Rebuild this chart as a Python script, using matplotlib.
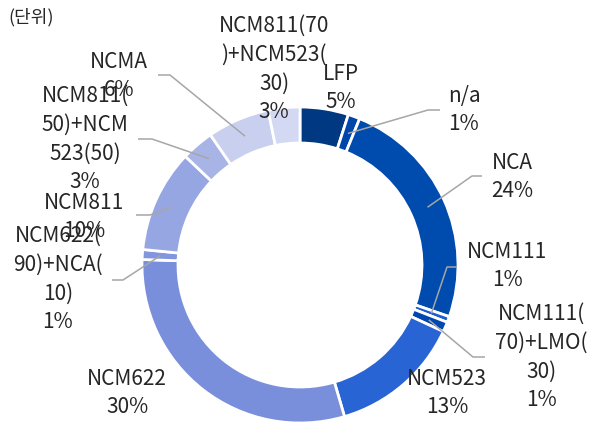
import numpy as np
import matplotlib
matplotlib.use("Agg")
import matplotlib.pyplot as plt

plt.rcParams['font.family'] = ['Noto Sans CJK KR', 'DejaVu Sans']

# share by cathode type (%), clockwise from 12 o'clock
categories = ['LFP', 'n/a', 'NCA', 'NCM111', 'NCM111(70)+LMO(30)', 'NCM523',
              'NCM622', 'NCM622(90)+NCA(10)', 'NCM811',
              'NCM811(50)+NCM523(50)', 'NCMA', 'NCM811(70)+NCM523(30)']
values = [4.9, 1.2, 23.9, 0.6, 1.0, 13.4, 29.8, 1.0, 10.4, 3.3, 6.3, 3.2]
pct_labels = ['5%', '1%', '24%', '1%', '1%', '13%', '30%', '1%', '10%', '3%', '6%', '3%']
label_text = ['LFP', 'n/a', 'NCA', 'NCM111', 'NCM111(\n70)+LMO(\n30)', 'NCM523',
              'NCM622', 'NCM622(\n90)+NCA(\n10)', 'NCM811',
              'NCM811(\n50)+NCM\n523(50)', 'NCMA', 'NCM811(70\n)+NCM523(\n30)']
colors = ['#003882', '#0046AA', '#004BAE', '#1A5ED0', '#0048B0', '#2964D5',
          '#7A8FDB', '#8396DD', '#96A6E2', '#A8B4E6', '#C9D0EF', '#D3D9F2']

W, H = 592, 423
fig = plt.figure(figsize=(W / 100, H / 100), dpi=100)
ax = fig.add_axes([0, 0, 1, 1])

cx, cy, R = 300, H - 265, 158
wedges, _ = ax.pie(values, colors=colors, startangle=90, counterclock=False,
                   center=(cx, cy), radius=R,
                   wedgeprops=dict(width=36, edgecolor='white', linewidth=2))
ax.set_xlim(0, W)
ax.set_ylim(0, H)
ax.set_aspect('equal')
ax.axis('off')

# label centre (px), elbow point and end of leader (px) or None
layout = {
    'LFP': ((341, 88), None),
    'n/a': ((464, 110), ((428, 110), (440, 110))),
    'NCA': ((512, 177), ((472, 176), (482, 176))),
    'NCM111': ((507, 266), ((447, 267), (457, 267))),
    'NCM111(70)+LMO(30)': ((541, 357), ((473, 357), (485, 357))),
    'NCM523': ((447, 393), None),
    'NCM622': ((127, 393), None),
    'NCM622(90)+NCA(10)': ((58, 279), ((123, 280), (112, 280))),
    'NCM811': ((84, 217), ((150, 215), (136, 215))),
    'NCM811(50)+NCM523(50)': ((85, 139), ((152, 139), (138, 139))),
    'NCMA': ((119, 76), ((170, 75), (158, 75))),
    'NCM811(70)+NCM523(30)': ((274, 69), None),
}

for w, cat, txt, pct in zip(wedges, categories, label_text, pct_labels):
    (tx, ty), leader = layout[cat]
    if leader is not None:
        mid = np.deg2rad((w.theta1 + w.theta2) / 2)
        r = R - 18
        sx, sy = cx + r * np.cos(mid), cy + r * np.sin(mid)
        (ex, ey), (fx, fy) = leader
        ax.plot([sx, ex, fx], [sy, H - ey, H - fy], color='#A6A6A6', lw=1.1,
                solid_capstyle='butt')
    ax.text(tx, H - ty, txt + '\n' + pct, ha='center', va='center',
            multialignment='center', fontsize=15, color='#262626',
            linespacing=1.4)

ax.text(8, H - 17, '(단위)', ha='left', va='center', fontsize=13, color='#262626')

fig.savefig('out.png', dpi=100)
